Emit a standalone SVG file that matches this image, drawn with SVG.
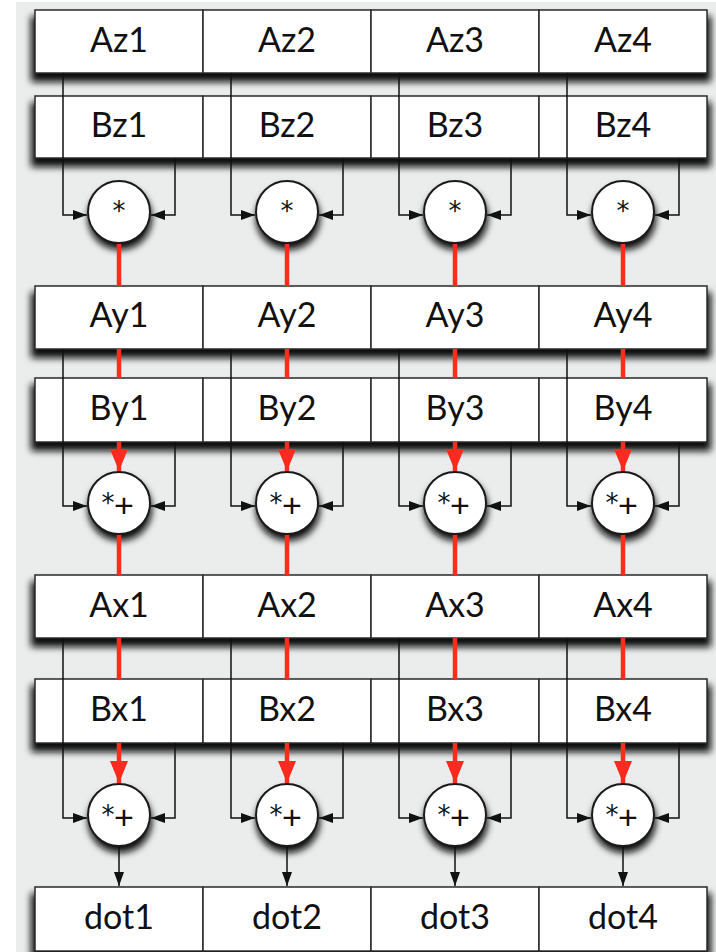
<svg xmlns="http://www.w3.org/2000/svg" width="716" height="952" viewBox="0 0 716 952">
  <defs>
    <filter id="shadow" x="-20%" y="-60%" width="140%" height="220%">
      <feGaussianBlur in="SourceGraphic" stdDeviation="3.5"/>
    </filter>
    <marker id="arrowBlack" viewBox="0 0 14 10" refX="14" refY="5" markerWidth="14" markerHeight="10" markerUnits="userSpaceOnUse" orient="auto">
      <path d="M0,0 L14,5 L0,10 z" fill="#111"/>
    </marker>
    <marker id="arrowRed" viewBox="0 0 22 18" refX="22" refY="9" markerWidth="22" markerHeight="18" markerUnits="userSpaceOnUse" orient="auto">
      <path d="M0,0 L22,9 L0,18 z" fill="#ff2a1f"/>
    </marker>
  </defs>
  <style>
    .cell { fill: #fff; stroke: #2a2a2a; stroke-width: 1.5; }
    .shade { fill: #0a0a0a; }
    .op { fill: #fff; stroke: #1a1a1a; stroke-width: 2; }
    .lbl { font-family: Lato, "Open Sans", "Liberation Sans", sans-serif; font-size: 34px; fill: #111; text-anchor: middle; }
    .sym { font-family: "DejaVu Sans", "Liberation Sans", sans-serif; fill: #111; text-anchor: middle; }
    .ast { font-size: 26px; }
    .plus { font-size: 34px; font-family: "Liberation Sans", sans-serif; }
    .wire { fill: none; stroke: #111; stroke-width: 1.5; }
    .red { fill: none; stroke: #ff2a1f; stroke-width: 4.5; }
  </style>

  <!-- paper background -->
  <rect x="16" y="2" width="700" height="950" fill="#ebeded"/>

  <!-- soft drop shadows beneath each register row and each operator -->
  <g id="shadows" filter="url(#shadow)">
    <g class="shade">
      <rect x="31" y="16" width="680" height="66"/>
      <rect x="31" y="102" width="680" height="65"/>
      <rect x="31" y="292" width="680" height="66"/>
      <rect x="31" y="384" width="680" height="67"/>
      <rect x="31" y="581" width="680" height="66"/>
      <rect x="31" y="685" width="680" height="67"/>
      <rect x="31" y="893" width="680" height="66"/>
      <circle cx="120" cy="218" r="32"/><circle cx="288" cy="218" r="32"/>
      <circle cx="456" cy="218" r="32"/><circle cx="624" cy="218" r="32"/>
      <circle cx="120" cy="509" r="32"/><circle cx="288" cy="509" r="32"/>
      <circle cx="456" cy="509" r="32"/><circle cx="624" cy="509" r="32"/>
      <circle cx="120" cy="821" r="32"/><circle cx="288" cy="821" r="32"/>
      <circle cx="456" cy="821" r="32"/><circle cx="624" cy="821" r="32"/>
    </g>
  </g>

  <!-- register cells -->
  <g id="Az1"><rect class="cell" x="35" y="10" width="168" height="63"/><text class="lbl" x="119" y="52">Az1</text></g>
  <g id="Az2"><rect class="cell" x="203" y="10" width="168" height="63"/><text class="lbl" x="287" y="52">Az2</text></g>
  <g id="Az3"><rect class="cell" x="371" y="10" width="168" height="63"/><text class="lbl" x="455" y="52">Az3</text></g>
  <g id="Az4"><rect class="cell" x="539" y="10" width="168" height="63"/><text class="lbl" x="623" y="52">Az4</text></g>

  <g id="Bz1"><rect class="cell" x="35" y="96" width="168" height="62"/><text class="lbl" x="119" y="137">Bz1</text></g>
  <g id="Bz2"><rect class="cell" x="203" y="96" width="168" height="62"/><text class="lbl" x="287" y="137">Bz2</text></g>
  <g id="Bz3"><rect class="cell" x="371" y="96" width="168" height="62"/><text class="lbl" x="455" y="137">Bz3</text></g>
  <g id="Bz4"><rect class="cell" x="539" y="96" width="168" height="62"/><text class="lbl" x="623" y="137">Bz4</text></g>

  <g id="Ay1"><rect class="cell" x="35" y="286" width="168" height="63"/><text class="lbl" x="119" y="327">Ay1</text></g>
  <g id="Ay2"><rect class="cell" x="203" y="286" width="168" height="63"/><text class="lbl" x="287" y="327">Ay2</text></g>
  <g id="Ay3"><rect class="cell" x="371" y="286" width="168" height="63"/><text class="lbl" x="455" y="327">Ay3</text></g>
  <g id="Ay4"><rect class="cell" x="539" y="286" width="168" height="63"/><text class="lbl" x="623" y="327">Ay4</text></g>

  <g id="By1"><rect class="cell" x="35" y="378" width="168" height="64"/><text class="lbl" x="119" y="420">By1</text></g>
  <g id="By2"><rect class="cell" x="203" y="378" width="168" height="64"/><text class="lbl" x="287" y="420">By2</text></g>
  <g id="By3"><rect class="cell" x="371" y="378" width="168" height="64"/><text class="lbl" x="455" y="420">By3</text></g>
  <g id="By4"><rect class="cell" x="539" y="378" width="168" height="64"/><text class="lbl" x="623" y="420">By4</text></g>

  <g id="Ax1"><rect class="cell" x="35" y="575" width="168" height="63"/><text class="lbl" x="119" y="617">Ax1</text></g>
  <g id="Ax2"><rect class="cell" x="203" y="575" width="168" height="63"/><text class="lbl" x="287" y="617">Ax2</text></g>
  <g id="Ax3"><rect class="cell" x="371" y="575" width="168" height="63"/><text class="lbl" x="455" y="617">Ax3</text></g>
  <g id="Ax4"><rect class="cell" x="539" y="575" width="168" height="63"/><text class="lbl" x="623" y="617">Ax4</text></g>

  <g id="Bx1"><rect class="cell" x="35" y="679" width="168" height="64"/><text class="lbl" x="119" y="721">Bx1</text></g>
  <g id="Bx2"><rect class="cell" x="203" y="679" width="168" height="64"/><text class="lbl" x="287" y="721">Bx2</text></g>
  <g id="Bx3"><rect class="cell" x="371" y="679" width="168" height="64"/><text class="lbl" x="455" y="721">Bx3</text></g>
  <g id="Bx4"><rect class="cell" x="539" y="679" width="168" height="64"/><text class="lbl" x="623" y="721">Bx4</text></g>

  <g id="dot1"><rect class="cell" x="35" y="887" width="168" height="64"/><text class="lbl" x="119" y="929">dot1</text></g>
  <g id="dot2"><rect class="cell" x="203" y="887" width="168" height="64"/><text class="lbl" x="287" y="929">dot2</text></g>
  <g id="dot3"><rect class="cell" x="371" y="887" width="168" height="64"/><text class="lbl" x="455" y="929">dot3</text></g>
  <g id="dot4"><rect class="cell" x="539" y="887" width="168" height="64"/><text class="lbl" x="623" y="929">dot4</text></g>

  <!-- connectors -->
  <g id="connectors">
    <!-- z stage: A and B into the multipliers -->
    <path class="wire" d="M63,73 V215 H87" marker-end="url(#arrowBlack)"/>
    <path class="wire" d="M175,158 V215 H151" marker-end="url(#arrowBlack)"/>
    <path class="wire" d="M231,73 V215 H255" marker-end="url(#arrowBlack)"/>
    <path class="wire" d="M343,158 V215 H319" marker-end="url(#arrowBlack)"/>
    <path class="wire" d="M399,73 V215 H423" marker-end="url(#arrowBlack)"/>
    <path class="wire" d="M511,158 V215 H487" marker-end="url(#arrowBlack)"/>
    <path class="wire" d="M567,73 V215 H591" marker-end="url(#arrowBlack)"/>
    <path class="wire" d="M679,158 V215 H655" marker-end="url(#arrowBlack)"/>

    <!-- y stage -->
    <path class="wire" d="M63,349 V506 H87" marker-end="url(#arrowBlack)"/>
    <path class="wire" d="M175,442 V506 H151" marker-end="url(#arrowBlack)"/>
    <path class="wire" d="M231,349 V506 H255" marker-end="url(#arrowBlack)"/>
    <path class="wire" d="M343,442 V506 H319" marker-end="url(#arrowBlack)"/>
    <path class="wire" d="M399,349 V506 H423" marker-end="url(#arrowBlack)"/>
    <path class="wire" d="M511,442 V506 H487" marker-end="url(#arrowBlack)"/>
    <path class="wire" d="M567,349 V506 H591" marker-end="url(#arrowBlack)"/>
    <path class="wire" d="M679,442 V506 H655" marker-end="url(#arrowBlack)"/>

    <!-- x stage -->
    <path class="wire" d="M63,638 V818 H87" marker-end="url(#arrowBlack)"/>
    <path class="wire" d="M175,743 V818 H151" marker-end="url(#arrowBlack)"/>
    <path class="wire" d="M231,638 V818 H255" marker-end="url(#arrowBlack)"/>
    <path class="wire" d="M343,743 V818 H319" marker-end="url(#arrowBlack)"/>
    <path class="wire" d="M399,638 V818 H423" marker-end="url(#arrowBlack)"/>
    <path class="wire" d="M511,743 V818 H487" marker-end="url(#arrowBlack)"/>
    <path class="wire" d="M567,638 V818 H591" marker-end="url(#arrowBlack)"/>
    <path class="wire" d="M679,743 V818 H655" marker-end="url(#arrowBlack)"/>

    <!-- accumulator chain (red) -->
    <path class="red" d="M119,243 V286 M119,349 V378"/>
    <path class="red" d="M287,243 V286 M287,349 V378"/>
    <path class="red" d="M455,243 V286 M455,349 V378"/>
    <path class="red" d="M623,243 V286 M623,349 V378"/>
    <path class="red" d="M119,442 V471" marker-end="url(#arrowRed)"/>
    <path class="red" d="M287,442 V471" marker-end="url(#arrowRed)"/>
    <path class="red" d="M455,442 V471" marker-end="url(#arrowRed)"/>
    <path class="red" d="M623,442 V471" marker-end="url(#arrowRed)"/>

    <path class="red" d="M119,534 V575 M119,638 V679"/>
    <path class="red" d="M287,534 V575 M287,638 V679"/>
    <path class="red" d="M455,534 V575 M455,638 V679"/>
    <path class="red" d="M623,534 V575 M623,638 V679"/>
    <path class="red" d="M119,743 V783" marker-end="url(#arrowRed)"/>
    <path class="red" d="M287,743 V783" marker-end="url(#arrowRed)"/>
    <path class="red" d="M455,743 V783" marker-end="url(#arrowRed)"/>
    <path class="red" d="M623,743 V783" marker-end="url(#arrowRed)"/>

    <!-- results down to dot registers -->
    <path class="wire" d="M119,846 V886" marker-end="url(#arrowBlack)"/>
    <path class="wire" d="M287,846 V886" marker-end="url(#arrowBlack)"/>
    <path class="wire" d="M455,846 V886" marker-end="url(#arrowBlack)"/>
    <path class="wire" d="M623,846 V886" marker-end="url(#arrowBlack)"/>
  </g>

  <!-- operators -->
  <g id="mul1"><circle class="op" cx="119" cy="212" r="31"/><text class="sym ast" x="119" y="220">*</text></g>
  <g id="mul2"><circle class="op" cx="287" cy="212" r="31"/><text class="sym ast" x="287" y="220">*</text></g>
  <g id="mul3"><circle class="op" cx="455" cy="212" r="31"/><text class="sym ast" x="455" y="220">*</text></g>
  <g id="mul4"><circle class="op" cx="623" cy="212" r="31"/><text class="sym ast" x="623" y="220">*</text></g>

  <g id="mac_y1"><circle class="op" cx="119" cy="503" r="31"/><text class="sym ast" x="108" y="512">*</text><text class="sym plus" x="124" y="517">+</text></g>
  <g id="mac_y2"><circle class="op" cx="287" cy="503" r="31"/><text class="sym ast" x="276" y="512">*</text><text class="sym plus" x="292" y="517">+</text></g>
  <g id="mac_y3"><circle class="op" cx="455" cy="503" r="31"/><text class="sym ast" x="444" y="512">*</text><text class="sym plus" x="460" y="517">+</text></g>
  <g id="mac_y4"><circle class="op" cx="623" cy="503" r="31"/><text class="sym ast" x="612" y="512">*</text><text class="sym plus" x="628" y="517">+</text></g>

  <g id="mac_x1"><circle class="op" cx="119" cy="815" r="31"/><text class="sym ast" x="108" y="824">*</text><text class="sym plus" x="124" y="829">+</text></g>
  <g id="mac_x2"><circle class="op" cx="287" cy="815" r="31"/><text class="sym ast" x="276" y="824">*</text><text class="sym plus" x="292" y="829">+</text></g>
  <g id="mac_x3"><circle class="op" cx="455" cy="815" r="31"/><text class="sym ast" x="444" y="824">*</text><text class="sym plus" x="460" y="829">+</text></g>
  <g id="mac_x4"><circle class="op" cx="623" cy="815" r="31"/><text class="sym ast" x="612" y="824">*</text><text class="sym plus" x="628" y="829">+</text></g>
</svg>
